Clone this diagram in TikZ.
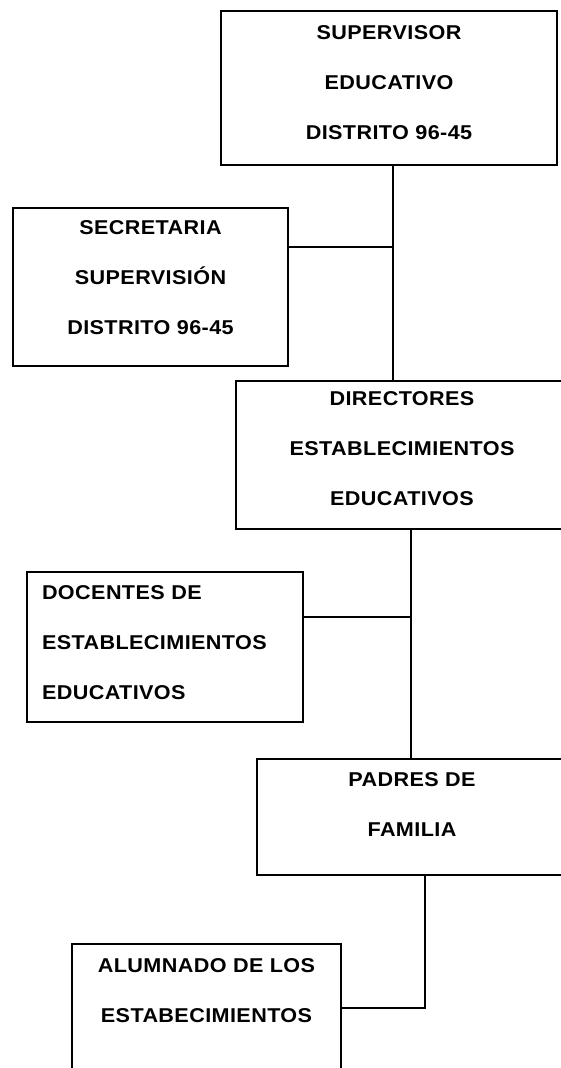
\documentclass[tikz,border=0pt]{standalone}
\usepackage{fontspec}
\newfontfamily\orgfont[FakeStretch=1.08,LetterSpace=2]{Liberation Sans}
\usepackage{tikz}

\newcommand{\lowpad}[1]{\rule[-#1pt]{0pt}{0pt}}

\tikzset{orgbox/.style={draw, line width=1.4pt, align=center, inner sep=0pt,
		font=\orgfont\bfseries\fontsize{20}{50}\selectfont},
	orgline/.style={line width=1.4pt}}

\begin{document}
\begin{tikzpicture}[x=1pt,y=-1pt]
		\useasboundingbox (0,0) rectangle (560,1068);
		% boxes
		\node[orgbox, minimum width=336pt, minimum height=154pt] (sup) at (389,88)
		{SUPERVISOR\\EDUCATIVO\\DISTRITO 96-45\lowpad{10}};
		\node[orgbox, minimum width=275pt, minimum height=158pt] (sec) at (150.5,287)
		{SECRETARIA\\SUPERVISIÓN\\DISTRITO 96-45\lowpad{19}};
		\node[orgbox, minimum width=332pt, minimum height=148pt] (dir) at (402,455)
		{DIRECTORES\\ESTABLECIMIENTOS\\EDUCATIVOS\lowpad{12}};
		\node[orgbox, align=left, text width=246pt, inner xsep=15pt, minimum height=150pt] (doc) at (165,647)
		{DOCENTES DE\\ESTABLECIMIENTOS\\EDUCATIVOS\lowpad{8}};
		\node[orgbox, minimum width=310pt, minimum height=116pt] (pad) at (412,817)
		{PADRES DE\\FAMILIA\lowpad{24}};
		\node[orgbox, minimum width=269pt, minimum height=150pt] (alu) at (206.5,1019)
		{ALUMNADO DE LOS\\ESTABECIMIENTOS\lowpad{56}};
		% connectors
		\coordinate (j1) at (393,247);
		\coordinate (j2) at (411,617);
		\coordinate (j3) at (425,1008);
		\draw[orgline] (sup.south -| j1) -- (dir.north -| j1);
		\draw[orgline] (sec.east |- j1) -- (j1);
		\draw[orgline] (dir.south -| j2) -- (pad.north -| j2);
		\draw[orgline] (doc.east |- j2) -- (j2);
		\draw[orgline] (pad.south -| j3) -- (j3) -- (alu.east |- j3);
	\end{tikzpicture}
\end{document}
